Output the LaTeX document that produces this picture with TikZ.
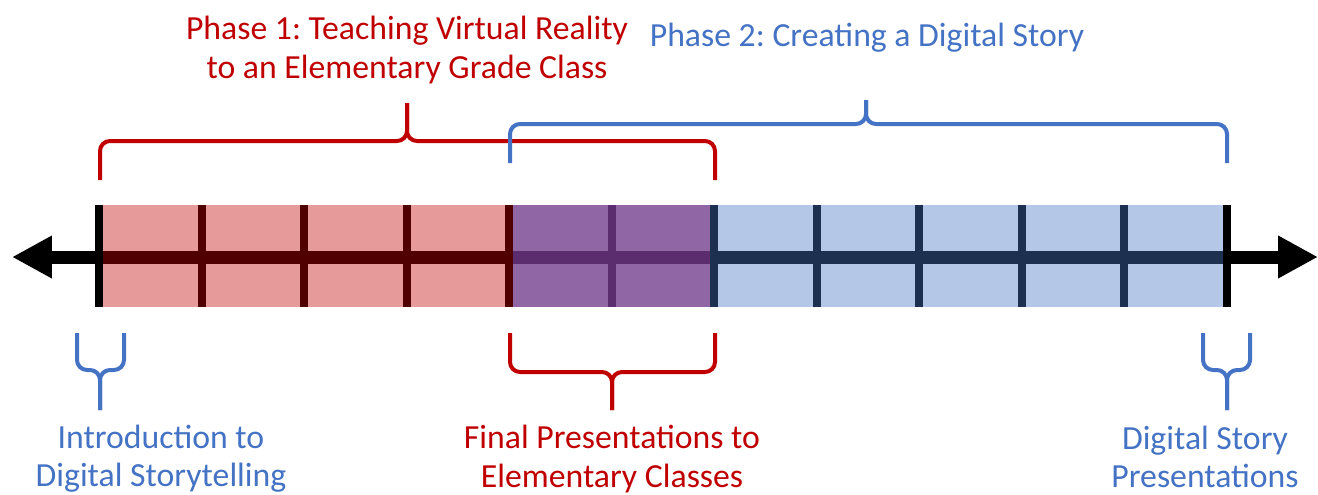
\documentclass[tikz,border=0pt]{standalone}
\usepackage{fontspec}
\setmainfont{Carlito}
\frenchspacing
\usetikzlibrary{arrows.meta}
\definecolor{phaseRed}{HTML}{C00000}
\definecolor{phaseBlue}{HTML}{4472C4}
\definecolor{cellRed}{HTML}{E69A9A}
\definecolor{cellPurple}{HTML}{9066A4}
\definecolor{cellBlue}{HTML}{B4C7E7}
\definecolor{lineRed}{HTML}{500000}
\definecolor{linePurple}{HTML}{5C2D6E}
\definecolor{lineBlue}{HTML}{1E3050}
\tikzstyle{redlabel} = [text=phaseRed, align=center, font=\fontsize{19.2}{21.8}\selectfont]
\tikzstyle{bluelabel} = [text=phaseBlue, align=center, font=\fontsize{19.2}{21.8}\selectfont]
\tikzstyle{redbrace} = [draw=phaseRed, line width=0.08cm, rounded corners=0.2cm]
\tikzstyle{bluebrace} = [draw=phaseBlue, line width=0.08cm, rounded corners=0.2cm]
\tikzstyle{axis} = [line width=0.26cm, {Triangle[length=0.8cm,width=0.8cm]}-{Triangle[length=0.8cm,width=0.8cm]}]
\tikzstyle{segment} = [line width=0.26cm]
\tikzstyle{divider} = [line width=0.16cm]

\begin{document}
\begin{tikzpicture}[x=0.02cm, y=-0.02cm]
\useasboundingbox (0,0) rectangle (1318,494);

% cells of the timeline
\foreach \i in {0,...,3}
  \fill[cellRed] ({99+102.5*\i},205) rectangle ({99+102.5*(\i+1)},307);
\foreach \i in {4,5}
  \fill[cellPurple] ({99+102.5*\i},205) rectangle ({99+102.5*(\i+1)},307);
\foreach \i in {6,...,10}
  \fill[cellBlue] ({99+102.5*\i},205) rectangle ({99+102.5*(\i+1)},307);

% axis
\coordinate (west) at (12,257);
\coordinate (east) at (1318,257);
\coordinate (start) at (99,257);
\coordinate (overlap) at (509,257);
\coordinate (handover) at (714,257);
\coordinate (finish) at (1227,257);
\draw[axis] (west) -- (east);
\draw[segment, lineRed] (start) -- (overlap);
\draw[segment, linePurple] (overlap) -- (handover);
\draw[segment, lineBlue] (handover) -- (finish);

\foreach \x in {201.5,304,406.5,509}
  \draw[divider, lineRed] (\x,205) -- (\x,307);
\draw[divider, linePurple] (611.5,205) -- (611.5,307);
\foreach \x in {714,816.5,919,1021.5,1124}
  \draw[divider, lineBlue] (\x,205) -- (\x,307);
\draw[divider, black] (99,205) -- (99,307);
\draw[divider, black] (1227,205) -- (1227,307);

% phase 1 brace
\coordinate (p1tip) at (407,103);
\draw[redbrace] (100,180) -- (100,141) -- (407,141) -- (p1tip);
\draw[redbrace] (715,180) -- (715,141) -- (407,141) -- (p1tip);
\node (phase1) [redlabel] at (407,50) {Phase 1: Teaching Virtual Reality\\to an Elementary Grade Class};

% phase 2 brace
\coordinate (p2tip) at (866,100);
\draw[bluebrace] (510,163) -- (510,124) -- (866,124) -- (p2tip);
\draw[bluebrace] (1227,163) -- (1227,124) -- (866,124) -- (p2tip);
\node (phase2) [bluelabel] at (867,38) {Phase 2: Creating a Digital Story};

% bottom braces
\coordinate (introtip) at (100,410);
\draw[bluebrace] (77,333) -- (77,370) -- (100,370) -- (introtip);
\draw[bluebrace] (124,333) -- (124,370) -- (100,370) -- (introtip);
\node (intro) [bluelabel] at (161,459) {Introduction to\\Digital Storytelling};

\coordinate (finaltip) at (612,410);
\draw[redbrace] (510,333) -- (510,372) -- (612,372) -- (finaltip);
\draw[redbrace] (715,333) -- (715,372) -- (612,372) -- (finaltip);
\node (final) [redlabel] at (612,459) {Final Presentations to\\Elementary Classes};

\coordinate (storytip) at (1227,410);
\draw[bluebrace] (1203,333) -- (1203,370) -- (1227,370) -- (storytip);
\draw[bluebrace] (1250,333) -- (1250,370) -- (1227,370) -- (storytip);
\node (story) [bluelabel] at (1205,457) {Digital Story\\Presentations};
\end{tikzpicture}
\end{document}
